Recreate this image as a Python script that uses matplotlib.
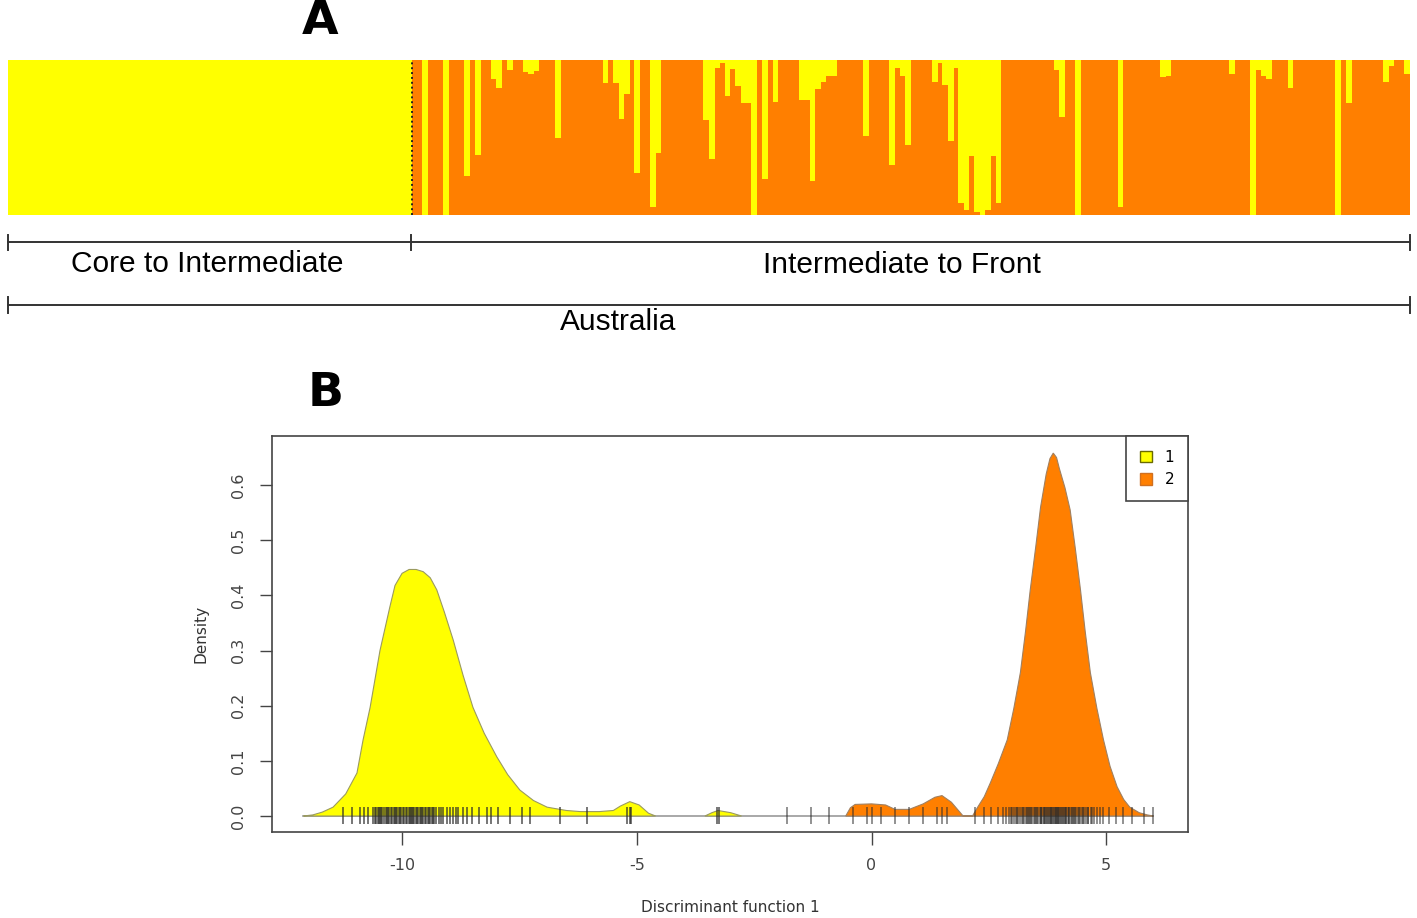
import matplotlib.pyplot as plt
from matplotlib.patches import Patch

# ---- Panel A: ancestry proportions (share of cluster 1 = yellow, from the top) ----
q1_core = [1.0] * 76   # Core to Intermediate: all cluster 1

q1_front = [
    0, 0, 1, 0, 0, 0, 1, 0, 0, 0, 0.75, 0, 0.61, 0, 0, 0.12, 0.18, 0, 0.065, 0, 0,
    0.08, 0.09, 0.07, 0, 0, 0, 0.5, 0, 0, 0, 0, 0, 0, 0, 0, 0.15, 0, 0.15, 0.38,
    0.22, 0, 0.73, 0, 0, 0.95, 0.6, 0,
    0, 0, 0, 0, 0, 0, 0, 0.39, 0.64, 0.05, 0.02, 0.23, 0.06, 0.17, 0.28, 0.28, 1.0,
    0, 0.77, 0, 0.27, 0, 0, 0, 0, 0.26, 0.26, 0.78, 0.185, 0.14, 0.1, 0.1, 0, 0, 0,
    0, 0, 0.49, 0, 0, 0, 0, 0.68, 0.05, 0.1, 0.55,
    0, 0, 0, 0, 0.14, 0.02, 0.16, 0.52, 0.05, 0.92, 0.97, 0.62, 0.98, 1.0, 0.97,
    0.62, 0.92, 0, 0, 0, 0, 0, 0, 0, 0, 0, 0, 0.065, 0.37, 0, 0, 1.0, 0, 0, 0, 0,
    0, 0, 0, 0.95, 0, 0, 0, 0, 0, 0,
    0, 0.11, 0.1, 0, 0, 0, 0, 0, 0, 0, 0, 0, 0, 0, 0.09, 0, 0, 0, 1.0,
    0.065, 0.1, 0.12, 0, 0, 0, 0.18, 0, 0, 0, 0, 0, 0, 0, 0, 1.0, 0, 0.28, 0, 0,
    0, 0, 0, 0, 0.14, 0.04, 0, 0, 0.09,
]

# ---- Panel B: DAPC density curves ----
yellow_x = [-12.1, -11.9, -11.7, -11.47, -11.2, -10.96, -10.83, -10.68, -10.47,
            -10.26, -10.15, -10.0, -9.85, -9.7, -9.55, -9.4, -9.26, -9.1, -8.91,
            -8.7, -8.49, -8.25, -7.98, -7.75, -7.49, -7.2, -6.91, -6.5, -6.2,
            -5.8, -5.5, -5.35, -5.15, -4.95, -4.75, -4.6]
yellow_d = [0.0, 0.002, 0.007, 0.016, 0.04, 0.078, 0.138, 0.197, 0.30,
            0.379, 0.418, 0.44, 0.447, 0.447, 0.443, 0.432, 0.41, 0.37, 0.319,
            0.255, 0.197, 0.15, 0.107, 0.075, 0.047, 0.028, 0.016, 0.01, 0.008,
            0.008, 0.01, 0.018, 0.026, 0.02, 0.005, 0.0]
yellow2_x = [-3.55, -3.4, -3.27, -3.0, -2.77]
yellow2_d = [0.0, 0.006, 0.01, 0.006, 0.0]

orange_x = [-0.55, -0.45, -0.35, 0.0, 0.3, 0.5, 0.8, 1.1, 1.35, 1.5, 1.7, 1.95,
            2.15, 2.26, 2.4, 2.53, 2.7, 2.89, 3.03, 3.17, 3.28, 3.38, 3.5, 3.6,
            3.72, 3.8, 3.87, 3.94, 4.0, 4.12, 4.23, 4.34, 4.45, 4.55, 4.66, 4.8,
            4.94, 5.08, 5.23, 5.37, 5.5, 5.7, 5.87, 6.0]
orange_d = [0.0, 0.015, 0.021, 0.022, 0.02, 0.012, 0.012, 0.022, 0.034, 0.037,
            0.025, 0.0, 0.0, 0.016, 0.035, 0.06, 0.095, 0.138, 0.195, 0.26, 0.335,
            0.41, 0.49, 0.56, 0.62, 0.648, 0.658, 0.65, 0.63, 0.595, 0.555, 0.485,
            0.41, 0.335, 0.26, 0.195, 0.138, 0.09, 0.053, 0.03, 0.016, 0.006,
            0.002, 0.0]

# individual scores (rug)
rug_yellow = [-11.26, -11.06, -10.9, -10.8, -10.72, -10.62, -10.58, -10.55, -10.52,
              -10.5, -10.46, -10.44, -10.42, -10.38, -10.35, -10.33, -10.3, -10.27,
              -10.24, -10.22, -10.18, -10.15, -10.12, -10.1, -10.06, -10.04, -10.02,
              -9.98, -9.95, -9.92, -9.9, -9.86, -9.84, -9.82, -9.78, -9.76, -9.74,
              -9.7, -9.68, -9.66, -9.62, -9.6, -9.58, -9.55, -9.52, -9.5, -9.45,
              -9.43, -9.4, -9.36, -9.34, -9.32, -9.28, -9.22, -9.18, -9.12, -9.05,
              -8.98, -8.92, -8.85, -8.8, -8.7, -8.62, -8.5, -8.36, -8.2, -8.1,
              -7.95, -7.7, -7.45, -7.28, -6.64, -6.06, -5.2, -5.15, -5.12, -3.3,
              -3.25]
rug_orange = [-1.8, -1.3, -0.9, -0.4, -0.1, 0.0, 0.2, 0.5, 0.8, 1.1, 1.4, 1.5, 1.6,
              2.2, 2.4, 2.55, 2.7, 2.8, 2.87, 2.93, 2.98, 3.0, 3.03, 3.08, 3.1,
              3.12, 3.16, 3.2, 3.22, 3.24, 3.28, 3.31, 3.33, 3.35, 3.38, 3.4, 3.42,
              3.45, 3.48, 3.5, 3.52, 3.55, 3.58, 3.6, 3.61, 3.64, 3.67, 3.68, 3.7,
              3.72, 3.74, 3.75, 3.78, 3.8, 3.82, 3.83, 3.85, 3.86, 3.88, 3.9, 3.92,
              3.93, 3.95, 3.97, 3.98, 4.0, 4.02, 4.03, 4.06, 4.08, 4.09, 4.12, 4.14,
              4.15, 4.18, 4.2, 4.21, 4.25, 4.27, 4.28, 4.32, 4.34, 4.36, 4.4, 4.42,
              4.44, 4.48, 4.5, 4.52, 4.57, 4.6, 4.62, 4.68, 4.7, 4.74, 4.8, 4.87,
              4.94, 5.05, 5.2, 5.35, 5.55, 5.8, 6.0]

YELLOW = '#FFFF00'
ORANGE = '#FF7F00'
W, H = 1417, 918

fig = plt.figure(figsize=(W / 100, H / 100), dpi=100)

# overlay in pixel coordinates for brackets and letters
ov = fig.add_axes([0, 0, 1, 1])
ov.set_xlim(0, W)
ov.set_ylim(H, 0)
ov.axis('off')

# ---- Panel A bars ----
axA = fig.add_axes([8 / W, 1 - 215 / H, (1410 - 8) / W, (215 - 60) / H])
q1 = q1_core + q1_front
xs = list(range(len(q1)))
q2 = [1 - v for v in q1]
# slightly over-wide bars so that no white seams appear between neighbours
axA.bar(xs, q2, width=1.08, color=ORANGE, linewidth=0)
axA.bar(xs, q1, bottom=q2, width=1.08, color=YELLOW, linewidth=0)
axA.axvline(len(q1_core) - 0.5, color='#222222', ls=(0, (1, 1.5)), lw=1.4)
axA.set_xlim(-0.5, len(q1) - 0.5)
axA.set_ylim(0, 1)
axA.axis('off')

ov.text(320, 22, 'A', fontsize=34, fontweight='heavy', ha='center', va='center')
ov.text(326, 393, 'B', fontsize=34, fontweight='heavy', ha='center', va='center')

lc = '#333333'
ov.plot([8, 1410], [242, 242], color=lc, lw=1.4)
for x in (8, 411, 1410):
    ov.plot([x, x], [235, 250], color=lc, lw=1.4)
ov.plot([8, 1410], [305, 305], color=lc, lw=1.4)
for x in (8, 1410):
    ov.plot([x, x], [297, 313], color=lc, lw=1.4)

tf = dict(fontsize=21.5, family='Liberation Sans', ha='center', va='center')
ov.text(207, 264, 'Core to Intermediate', **tf)
ov.text(902, 265, 'Intermediate to Front', **tf)
ov.text(618, 322, 'Australia', **tf)

# ---- Panel B density ----
axB = fig.add_axes([272 / W, 1 - 832 / H, (1188 - 272) / W, (832 - 436) / H])
axB.plot([-12.1, 6.0], [0, 0], color='#999999', lw=1.2, zorder=1)
axB.fill(yellow_x, yellow_d, facecolor=YELLOW, edgecolor='#9a9a60', lw=0.8, zorder=2)
axB.fill(yellow2_x, yellow2_d, facecolor=YELLOW, edgecolor='#9a9a60', lw=0.8, zorder=2)
axB.fill(orange_x, orange_d, facecolor=ORANGE, edgecolor='#a08060', lw=0.8, zorder=2)
axB.vlines(rug_yellow, -0.015, 0.017, color='#2a2a2a', lw=1.2, alpha=0.75, zorder=3)
axB.vlines(rug_orange, -0.015, 0.017, color='#2a2a2a', lw=1.2, alpha=0.6, zorder=3)

axB.set_xlim(-12.77, 6.74)
axB.set_ylim(-0.029, 0.689)
axB.set_xticks([-10, -5, 0, 5])
axB.set_xticklabels(['-10', '-5', '0', '5'])
axB.set_yticks([0, 0.1, 0.2, 0.3, 0.4, 0.5, 0.6])
axB.set_yticklabels(['0.0', '0.1', '0.2', '0.3', '0.4', '0.5', '0.6'],
                    rotation=90, va='center')
axB.tick_params(length=9, width=1, colors='#444444', labelsize=11.5, pad=10)
for s in axB.spines.values():
    s.set_color('#444444')
    s.set_linewidth(1.2)
axB.set_xlabel('Discriminant function 1', fontsize=11, color='#333333', labelpad=19)
axB.set_ylabel('Density', fontsize=11, color='#333333', labelpad=16)

leg = axB.legend(handles=[Patch(facecolor=YELLOW, edgecolor='#6a6a00'),
                          Patch(facecolor=ORANGE, edgecolor='#d07020')],
                 labels=['1', '2'], loc='upper right', borderaxespad=0,
                 fancybox=False, framealpha=1, edgecolor='#444444',
                 handlelength=0.8, handleheight=0.8, fontsize=11,
                 borderpad=0.9, labelspacing=0.5)
leg.get_frame().set_linewidth(1.2)

fig.savefig('out.png', dpi=100)
